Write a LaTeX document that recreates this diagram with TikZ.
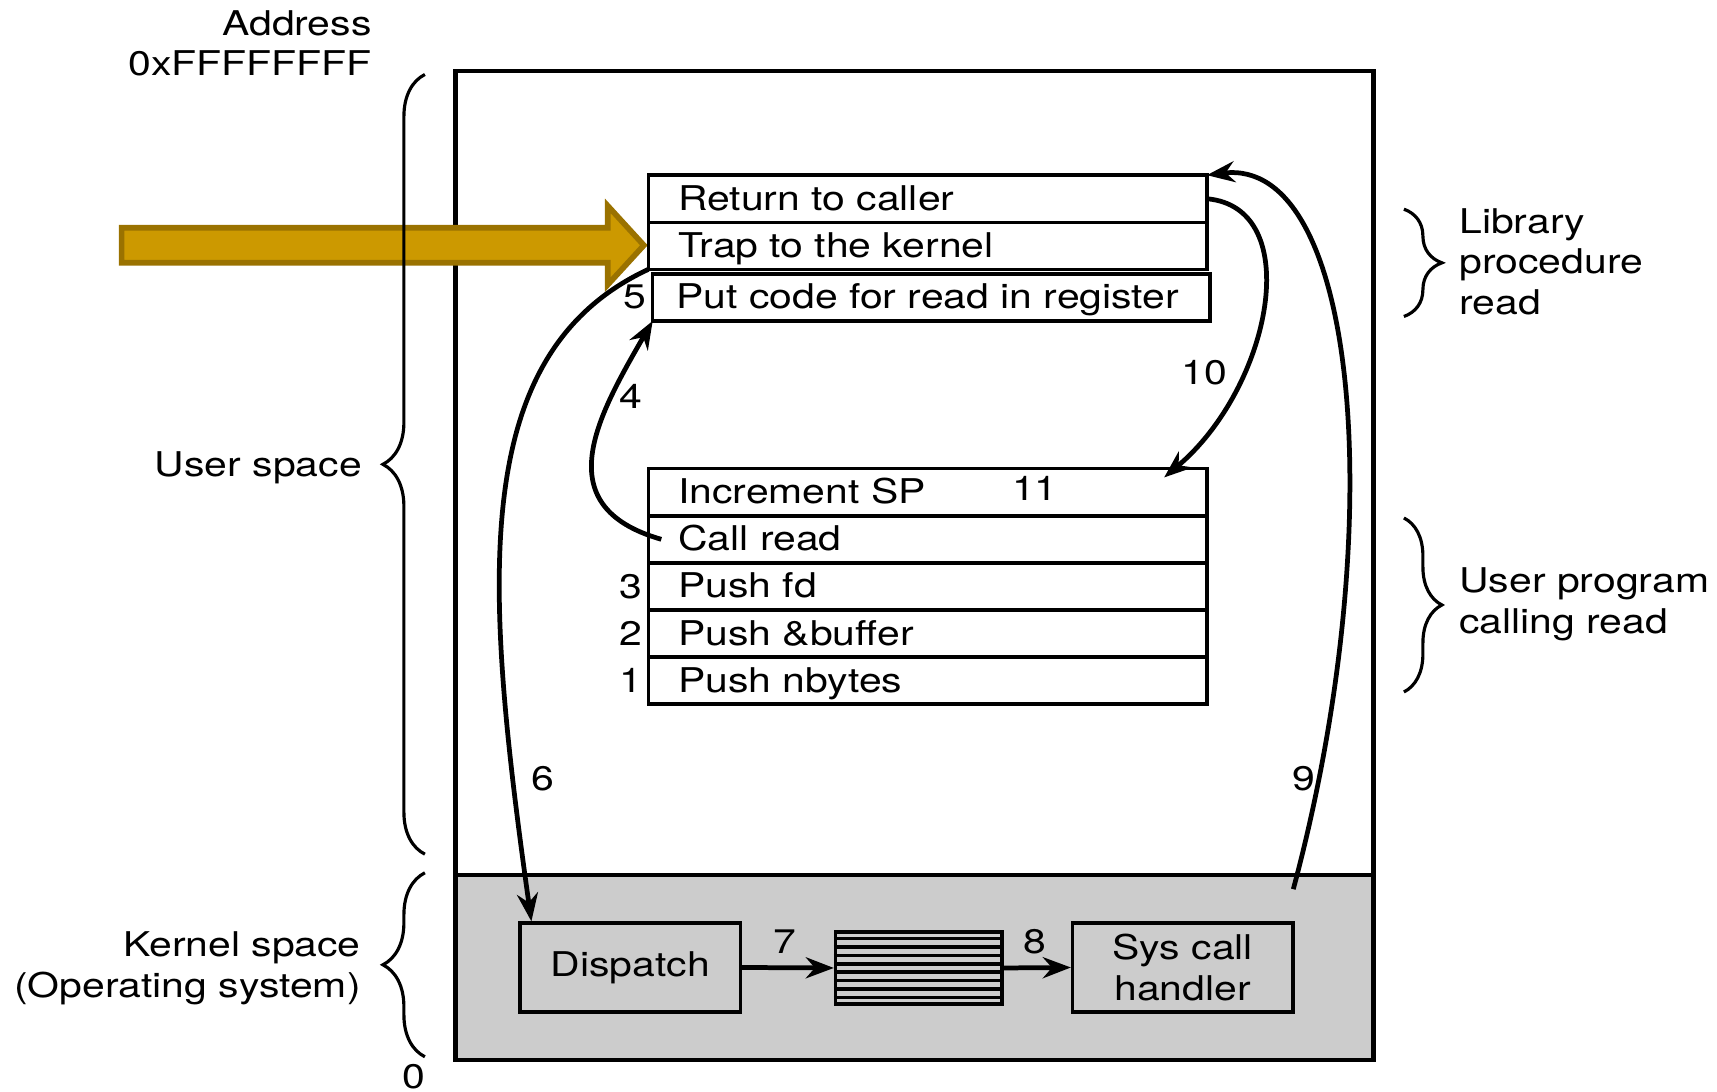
\documentclass[tikz,border=0pt]{standalone}
\usepackage{fontspec}
\setmainfont{TeX Gyre Heros}[FakeStretch=1.2]
\usepackage{tikz}
\usetikzlibrary{arrows.meta,positioning,calc,decorations.pathreplacing}
\usepackage{xcolor}
\definecolor{Ink}{HTML}{000000}
\definecolor{KernelGray}{HTML}{CCCCCC}
\definecolor{Gold}{HTML}{CC9900}
\definecolor{GoldDark}{HTML}{9A7200}
\tikzset{
  rowbox/.style={draw=Ink,line width=1pt,outer sep=0pt,minimum height=0.471cm,inner xsep=0.3cm,inner ysep=0pt,text height=0.25cm,text depth=0.02cm,text width=4.985cm,align=left,anchor=north west},
  kbox/.style={draw=Ink,line width=1pt,minimum width=2.201cm,minimum height=0.887cm,inner sep=0pt,align=center},
  lbl/.style={inner sep=0pt,text=Ink},
  flow/.style={-{Stealth[length=2.8mm,width=2.1mm]},draw=Ink,line width=1.35pt},
  curly/.style={decorate,decoration={brace,amplitude=#1},draw=Ink,line width=0.9pt},
}
\begin{document}
\begin{tikzpicture}[x=1cm,y=1cm,font=\fontsize{9.7}{11.5}\selectfont]
\useasboundingbox (0,0) rectangle (17.17,10.92);
\fill[KernelGray] (4.556,0.319) rectangle (13.733,2.170);
\draw[Ink,line width=1.3pt] (4.556,2.170) -- (13.733,2.170);
\draw[Ink,line width=1.3pt] (4.556,0.319) rectangle (13.733,10.208);
\draw[GoldDark,fill=Gold,line width=1.6pt,line join=miter] (1.216,8.642) -- (6.078,8.642) -- (6.078,8.861) -- (6.439,8.467) -- (6.078,8.073) -- (6.078,8.292) -- (1.216,8.292) -- cycle;
\node[rowbox] (ret) at (6.483,9.168) {Return to caller};
\node[rowbox,below=0pt of ret] (trap) {Trap to the kernel};
\node[rowbox,text width=5.1cm,inner xsep=0.237cm] (putcode) at (6.527,8.182) {Put code for read in register};
\node[rowbox] (incsp) at (6.483,6.233) {Increment SP};
\node[rowbox,below=0pt of incsp] (callrd) {Call read};
\node[rowbox,below=0pt of callrd] (pushfd) {Push fd};
\node[rowbox,below=0pt of pushfd] (pushbuf) {Push \&buffer};
\node[rowbox,below=0pt of pushbuf] (pushnb) {Push nbytes};
\node[kbox] (dispatch) at (6.302,1.245) {Dispatch};
\node[draw=Ink,line width=1pt,minimum width=1.664cm,minimum height=0.723cm,inner sep=0pt] (table) at (9.188,1.240) {};
\foreach \k in {1,...,8}
  \draw[Ink,line width=1pt] ($(table.north west)!\k/9!(table.south west)$) -- ($(table.north east)!\k/9!(table.south east)$);
\node[kbox] (handler) at (11.827,1.245) {Sys call\\handler};
\node[lbl] (n1) at (6.308,4.120) {1};
\node[lbl] (n2) at (6.308,4.590) {2};
\node[lbl] (n3) at (6.308,5.050) {3};
\node[lbl] (n4) at (6.308,6.956) {4};
\node[lbl] (n5) at (6.352,7.952) {5};
\node[lbl] (n6) at (5.432,3.134) {6};
\node[lbl] (n7) at (7.852,1.502) {7};
\node[lbl] (n8) at (10.349,1.502) {8};
\node[lbl] (n9) at (13.043,3.134) {9};
\node[lbl] (n10) at (12.046,7.197) {10};
\node[lbl] (n11) at (10.349,6.036) {11};
\coordinate (sysret) at (12.933,2.028);
\coordinate (spin) at ($(incsp.north east)+(-0.427,-0.088)$);
\draw[flow] ([xshift=0.13cm]callrd.west) .. controls +(164:1.2) and +(240:1.1) .. (putcode.south west);
\draw[flow] (trap.south west) .. controls +(205:2.0) and +(98:3.4) .. ([xshift=0.13cm]dispatch.north west);
\draw[flow] (dispatch.east) -- (table.west);
\draw[flow] (table.east) -- (handler.west);
\draw[flow] (sysret) .. controls +(75:3.8) and +(7:1.52) .. (ret.north east);
\draw[flow] (ret.east) .. controls +(-5:1.0) and +(40:1.4) .. (spin);
\draw[curly=0.42cm] (4.249,2.378) -- (4.249,10.175);
\draw[curly=0.42cm] (4.249,0.352) -- (4.249,2.192);
\draw[curly=0.38cm] (14.039,8.828) -- (14.039,7.755);
\draw[curly=0.38cm] (14.039,5.740) -- (14.039,4.000);
\node[lbl,anchor=east,align=right] (addr) at (3.723,10.488) {Address\\0xFFFFFFFF};
\node[lbl,anchor=east] (uspace) at (3.625,6.240) {User space};
\node[lbl,anchor=east,align=right] (kspace) at (3.614,1.235) {Kernel space\\(Operating system)};
\node[lbl] (zero) at (4.139,0.150) {0};
\node[lbl,anchor=west,align=left] (libproc) at (14.587,8.303) {Library\\procedure\\read};
\node[lbl,anchor=west,align=left] (userprog) at (14.587,4.875) {User program\\calling read};
\end{tikzpicture}
\end{document}
